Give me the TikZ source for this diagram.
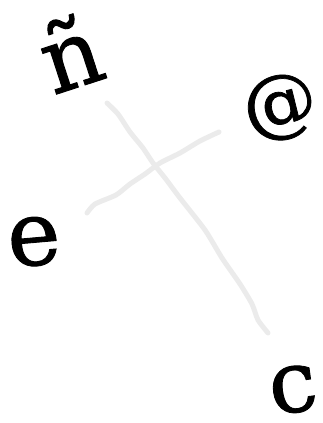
\documentclass[tikz,border=0pt]{standalone}
\usepackage{fontspec}
\setmainfont{DejaVu Serif}[FakeBold=1.0]
\usetikzlibrary{positioning}

\begin{document}
\begin{tikzpicture}[x=1pt,y=-1pt,
    glyph/.style={inner sep=0pt,text height=48pt,text depth=0pt,
        font=\fontsize{92}{92}\selectfont},
    stroke/.style={line width=5pt,draw=gray!16,line cap=round,line join=round}]
    \useasboundingbox (0,0) rectangle (323,423);
    %Letters
    \node[glyph,rotate=18,text height=72pt] (ntilde) at (70,52) {ñ};
    \node[glyph,rotate=14,text height=54pt,text depth=11pt,
        font=\fontsize{74}{74}\selectfont] (at) at (280,106) {@};
    \node[glyph,rotate=5,font=\fontsize{90}{90}\selectfont] (e) at (34,241) {e};
    \node[glyph,rotate=8,font=\fontsize{86}{86}\selectfont] (c) at (293,388) {c};
    %Ends of the strokes
    \coordinate (s1) at (107,103);
    \coordinate (t1) at (268,333);
    \coordinate (s2) at (87,213);
    \coordinate (t2) at (219,132);
    %Strokes
    \draw[stroke] plot[smooth,tension=0.4] coordinates
        {(s1) (118,114) (130,132) (143,148) (153,163) (165,178) (180,198) (205,230) (222,258) (240,284) (252,304) (258,320) (t1)};
    \draw[stroke] plot[smooth,tension=0.4] coordinates
        {(s2) (95,204) (116,195) (130,184) (145,174) (160,163) (180,153) (200,141) (t2)};
\end{tikzpicture}
\end{document}
